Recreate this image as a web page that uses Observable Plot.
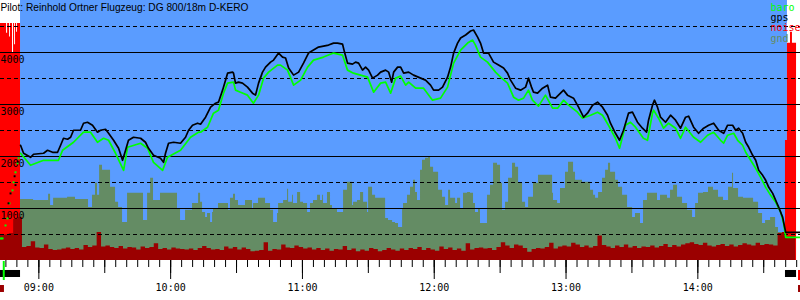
<!DOCTYPE html>
<html><head><meta charset="utf-8">
<script src="https://cdn.jsdelivr.net/npm/d3@7"></script>
<script src="https://cdn.jsdelivr.net/npm/@observablehq/plot@0.6"></script>
<style>html,body{margin:0;padding:0;background:#fff;} svg{display:block;}</style>
</head><body><div id="chart"></div>
<script>
// ---- text ----
const titleText = "Pilot: Reinhold Ortner Flugzeug: DG 800/18m D-KERO";
const legendNames = ["baro", "gps", "noise", "gnd"];
const legendColors = ["#00ff00", "#000000", "#ff0000", "#648c64"];
const hourLabels = ["09:00", "10:00", "11:00", "12:00", "13:00", "14:00"];
const yLabels = [1000, 2000, 3000, 4000];
const solidLevels = [1000, 2000, 3000, 4000];
const dashedLevels = [500, 1500, 2500, 3500, 4500];
// time in decimal hours
const timeDomain = [8.709, 14.779];
const skyPeriod = [8.861, 14.680];

// ---- GPS altitude ----
const gpsHours = [8.861,8.884,8.937,8.960,9.036,9.066,9.104,9.142,9.165,9.187,9.218,9.241,9.263,9.316,9.339,9.369,9.407,9.445,9.468,9.506,9.529,9.567,9.605,9.635,9.658,9.680,9.718,9.772,9.809,9.832,9.870,9.923,9.946,9.961,9.984,10.022,10.075,10.113,10.136,10.166,10.204,10.227,10.265,10.303,10.341,10.363,10.394,10.432,10.470,10.477,10.492,10.515,10.545,10.583,10.621,10.644,10.667,10.697,10.720,10.758,10.781,10.819,10.849,10.872,10.895,10.933,10.971,11.008,11.046,11.084,11.122,11.160,11.198,11.236,11.266,11.304,11.319,11.342,11.380,11.403,11.426,11.456,11.479,11.502,11.532,11.570,11.593,11.631,11.654,11.677,11.692,11.722,11.745,11.768,11.806,11.843,11.897,11.934,11.972,11.995,12.033,12.063,12.101,12.124,12.147,12.177,12.200,12.238,12.276,12.298,12.329,12.351,12.374,12.412,12.450,12.488,12.526,12.556,12.579,12.617,12.655,12.693,12.715,12.738,12.753,12.784,12.822,12.860,12.882,12.920,12.958,12.981,13.011,13.057,13.095,13.133,13.163,13.201,13.239,13.277,13.315,13.337,13.375,13.406,13.436,13.474,13.504,13.542,13.580,13.611,13.626,13.656,13.671,13.694,13.717,13.755,13.793,13.831,13.869,13.907,13.930,13.968,14.006,14.044,14.082,14.120,14.158,14.196,14.226,14.264,14.287,14.310,14.340,14.363,14.386,14.416,14.439,14.462,14.492,14.515,14.538,14.568,14.591,14.614,14.644,14.659,14.667,14.778];
const gpsAlt = [2216,2062,1985,2043,2062,2120,2081,2081,2216,2351,2332,2370,2505,2505,2640,2659,2601,2467,2505,2524,2447,2312,2158,1927,2120,2312,2370,2351,2274,2158,2023,1966,1888,2062,2255,2274,2255,2370,2505,2601,2640,2621,2756,2948,3025,3045,3276,3603,3623,3603,3411,3430,3411,3334,3218,3180,3411,3623,3719,3815,3854,3989,3912,3893,3700,3565,3623,3796,3989,4047,4104,4124,4143,4181,4181,4162,4008,3796,3777,3815,3796,3661,3719,3661,3507,3565,3623,3661,3623,3430,3623,3719,3719,3603,3623,3565,3507,3469,3372,3276,3276,3334,3526,3719,3989,4181,4278,4336,4413,4432,4297,4181,3989,3989,3815,3758,3700,3603,3469,3314,3276,3334,3507,3334,3237,3218,3314,3372,3141,3122,3218,3276,3180,3122,2948,2756,2833,2987,3045,2948,2794,2640,2447,2312,2505,2833,2852,2659,2544,2467,2698,2987,3083,2948,2756,2659,2794,2698,2544,2756,2775,2563,2447,2544,2601,2640,2505,2447,2601,2601,2505,2544,2447,2274,2177,2023,1927,1734,1638,1542,1407,1291,1156,1021,829,636,540,540];

// ---- barometric altitude ----
const baroHours = [8.861,8.937,9.036,9.149,9.180,9.263,9.339,9.392,9.445,9.491,9.529,9.582,9.643,9.673,9.772,9.825,9.870,9.939,9.976,10.075,10.151,10.211,10.227,10.280,10.325,10.363,10.401,10.432,10.477,10.492,10.530,10.583,10.628,10.667,10.705,10.743,10.811,10.834,10.887,10.933,10.986,11.039,11.084,11.160,11.236,11.304,11.342,11.387,11.441,11.494,11.540,11.593,11.631,11.669,11.707,11.745,11.783,11.806,11.859,11.919,11.987,12.048,12.101,12.147,12.200,12.253,12.291,12.313,12.351,12.404,12.465,12.503,12.556,12.602,12.640,12.678,12.715,12.745,12.791,12.844,12.898,12.936,12.981,13.019,13.087,13.125,13.186,13.239,13.277,13.322,13.375,13.406,13.451,13.489,13.527,13.587,13.618,13.656,13.664,13.702,13.740,13.778,13.831,13.869,13.907,13.968,14.021,14.074,14.120,14.173,14.196,14.226,14.272,14.302,14.340,14.363,14.401,14.439,14.477,14.515,14.553,14.591,14.629,14.651,14.667,14.778];
const baroAlt = [2062,1831,1927,1927,2120,2274,2467,2467,2274,2351,2312,2062,1734,2177,2255,2158,1888,1734,1985,2120,2370,2467,2467,2563,2833,2891,3218,3411,3430,3276,3237,3180,3025,3180,3507,3623,3758,3758,3661,3372,3469,3719,3854,3912,3989,3950,3661,3603,3565,3526,3237,3411,3430,3218,3507,3546,3372,3430,3314,3314,3083,3122,3334,3796,4047,4181,4239,4143,3912,3815,3623,3526,3411,3141,3083,3122,3276,3083,2968,3180,2929,2929,3083,2987,2852,2736,2794,2852,2794,2601,2351,2158,2601,2659,2563,2351,2312,2833,2891,2736,2544,2640,2544,2351,2563,2370,2274,2409,2467,2312,2255,2409,2447,2312,2216,2081,1927,1773,1599,1407,1253,1118,925,713,443,443];

// ---- engine climb samples (sparse points) ----
const baroClimbHours = [8.709,8.717,8.725,8.747,8.762,8.777,8.800,8.808,8.823,8.838,8.846];
const baroClimbAlt = [424,424,424,674,809,1098,1349,1503,1696,1869,1965];
const gpsClimbHours = [8.770,8.785,8.816,8.823,8.840];
const gpsClimbAlt = [1100,1290,1620,1450,1900];

// ---- ground elevation (steps) ----
const gndHours = [8.861,8.960,9.074,9.089,9.112,9.218,9.278,9.377,9.407,9.430,9.445,9.461,9.483,9.544,9.582,9.605,9.635,9.673,9.794,9.825,9.848,9.870,9.923,10.052,10.075,10.113,10.166,10.212,10.227,10.242,10.265,10.280,10.303,10.318,10.325,10.363,10.439,10.454,10.477,10.492,10.515,10.568,10.621,10.629,10.667,10.720,10.758,10.781,10.811,10.819,10.857,10.887,10.895,10.925,10.932,10.963,10.986,11.008,11.039,11.061,11.084,11.115,11.137,11.153,11.160,11.190,11.213,11.228,11.266,11.312,11.342,11.380,11.388,11.418,11.441,11.464,11.494,11.502,11.532,11.555,11.631,11.653,11.684,11.706,11.729,11.760,11.767,11.797,11.820,11.843,11.858,11.873,11.896,11.911,11.934,11.957,11.972,11.995,12.033,12.063,12.086,12.109,12.124,12.162,12.177,12.200,12.222,12.253,12.275,12.298,12.313,12.336,12.351,12.404,12.427,12.450,12.480,12.503,12.518,12.541,12.564,12.594,12.617,12.640,12.670,12.693,12.716,12.753,12.791,12.898,12.905,12.936,12.958,12.996,13.019,13.057,13.072,13.125,13.186,13.209,13.224,13.247,13.277,13.300,13.322,13.338,13.376,13.398,13.429,13.467,13.505,13.527,13.565,13.588,13.618,13.694,13.717,13.770,13.793,13.816,13.846,13.884,13.922,13.960,13.983,14.005,14.043,14.081,14.119,14.157,14.195,14.233,14.263,14.271,14.309,14.347,14.423,14.461,14.491,14.514,14.552,14.590,14.612,14.665];
const gndAlt = [1175,1156,1272,1060,1195,1214,1175,1021,1253,1484,1253,1831,1734,1407,1118,1021,732,1291,771,1291,1580,1156,1291,1002,771,964,1098,1291,1118,925,829,906,732,925,1002,1098,964,1195,1272,1156,1060,1156,1002,1098,1195,1098,964,732,906,1098,1156,1368,1118,1253,1098,1310,1118,1098,925,1098,1156,1253,1156,1253,1098,1310,1060,1002,925,1349,1503,1060,1118,1156,1310,1118,925,1407,1253,1195,809,771,732,713,636,1002,1098,1253,1407,1542,1310,1156,1734,1927,1965,1985,1792,1696,1349,1214,1060,1349,1195,1098,1195,1002,1291,1310,1291,1098,925,1002,713,1253,1445,1869,1831,1484,964,1118,1580,1869,1792,1484,1118,1021,1214,1484,1638,1291,1156,1098,1387,1696,1888,1696,1542,1503,1349,1253,1195,1310,1580,1734,1869,1696,1542,1407,1253,1021,829,906,713,1156,1291,1156,1253,1195,1349,1445,1214,1098,964,829,1098,1291,1310,1407,1349,1214,1156,1407,1676,1387,1214,1195,1118,906,713,771,829,636,540,540];

// ---- noise (one sample every 2 minutes from 08:42:32) ----
const noiseStart = 8.709;
const noiseStepMinutes = 2;
const noiseVal = [480,490,520,790,830,
250,270,360,240,230,300,210,190,200,220,240,210,230,200,290,250,280,540,260,280,250,230,270,220,250,240,200,260,230,250,320,210,230,200,240,220,210,200,220,190,230,
270,230,200,210,190,260,220,250,200,240,210,170,180,190,340,180,210,200,300,240,230,280,250,220,
240,200,230,190,220,180,210,200,270,190,220,170,200,180,230,210,170,190,230,200,180,220,190,230,210,250,190,230,200,180,260,210,240,190,220,180,320,200,230,240,220,230,190,250,340,280,230,300,280,230,160,210,230,220,250,330,220,260,
280,260,330,300,250,280,240,270,470,290,260,230,280,250,300,240,270,230,260,250,280,240,270,310,250,290,260,300,320,340,310,290,330,280,260,290,310,270,300,260,290,320,300,280,330,290,310,300,280,520,540,450,460,
0,0];

// ---- engine-run noise (high level) ----
const engineLeftHours = [8.709,8.755,8.763,8.778,8.785,8.800,8.808,8.816,8.823,8.831,8.838,8.861];
const engineLeftVal = [4560,4370,4560,4300,4560,3990,4560,4150,4560,4390,4560,4560];
const engineRightHours = [14.665,14.680,14.703,14.718,14.749];
const engineRightVal = [2310,4180,4390,4180,4180];

// ---- markers below the axis ----
const enginePeriods = [[8.709, 8.861], [14.665, 14.749]];
const takeoffMark = [8.730, 8.745];
const launchMark = [8.709, 8.739];
const endMark = [14.764, 14.779];

// ---- build tables ----
const gps = gpsHours.map((h, i) => ({h, v: gpsAlt[i]}));
const baro = baroHours.map((h, i) => ({h, v: baroAlt[i]}));
const gpsClimb = gpsClimbHours.map((h, i) => ({h, v: gpsClimbAlt[i]}));
const baroClimb = baroClimbHours.map((h, i) => ({h, v: baroClimbAlt[i]}));
const gnd = gndHours.map((h, i) => ({h, v: gndAlt[i]}));
const noise = noiseVal.map((v, i) => ({h: noiseStart + i * noiseStepMinutes / 60, v}));
const engL = engineLeftHours.map((h, i) => ({h, v: engineLeftVal[i]}));
const engR = engineRightHours.map((h, i) => ({h, v: engineRightVal[i]}));

const parseHour = s => +s.slice(0, 2) + +s.slice(3) / 60;
const hourTicks = hourLabels.map(parseHour);
const halfTicks = d3.range(17, 30).map(k => k / 2).filter(t => t >= timeDomain[0] && t <= timeDomain[1]);
const minorTicks = d3.range(105, 178).map(k => k / 12).filter(t => t >= timeDomain[0] && t <= timeDomain[1]);
const fmt = h => { const H = Math.floor(h + 1e-6), M = Math.round((h - H) * 60); return String(H).padStart(2, "0") + ":" + String(M).padStart(2, "0"); };

const mono = "DejaVu Sans Mono, monospace";
const BLUE = "#5a9cff", OLIVE = "#648c64", MAROON = "#9b0000", RED = "#ff0000", GREEN = "#00ff00";

const chart = Plot.plot({
  width: 800, height: 300,
  marginLeft: 0, marginRight: 0, marginTop: 0, marginBottom: 40,
  style: {background: "white", color: "black", overflow: "visible"},
  x: {domain: timeDomain, label: null},
  y: {domain: [0, 5000], axis: null, label: null},
  marks: [
    Plot.rect([skyPeriod], {x1: d => d[0], x2: d => d[1], y1: 0, y2: 5000, fill: BLUE}),
    Plot.areaY(engL, {x: "h", y: "v", curve: "step-after", fill: RED}),
    Plot.areaY(engR, {x: "h", y: "v", curve: "step-after", fill: RED}),
    Plot.areaY(gnd, {x: "h", y: "v", curve: "step-after", fill: OLIVE}),
    Plot.areaY(noise, {x: "h", y: "v", curve: "step-after", fill: MAROON}),
    Plot.ruleY(solidLevels, {stroke: "black", strokeWidth: 1}),
    Plot.ruleY(dashedLevels, {stroke: "black", strokeWidth: 1, strokeDasharray: "4,3"}),
    Plot.text(yLabels, {y: d => d, text: d => String(d), frameAnchor: "left", textAnchor: "start", lineAnchor: "top", dy: 3.6, fontSize: 10, fontFamily: mono, fill: "black"}),
    Plot.line(baro, {x: "h", y: "v", stroke: GREEN, strokeWidth: 1.7}),
    Plot.line(gps, {x: "h", y: "v", stroke: "black", strokeWidth: 1.7}),
    Plot.dot(baroClimb, {x: "h", y: "v", symbol: "square", r: 1.1, fill: GREEN}),
    Plot.dot(gpsClimb, {x: "h", y: "v", symbol: "square", r: 1.1, fill: "black"}),
    Plot.axisX({ticks: minorTicks, tickSize: 7, tickFormat: () => "", label: null}),
    Plot.axisX({ticks: halfTicks, tickSize: 13, tickFormat: () => "", label: null}),
    Plot.axisX({ticks: hourTicks, tickSize: 19, tickPadding: 4, tickFormat: fmt, fontSize: 10, fontFamily: mono, label: null}),
    Plot.rect(enginePeriods, {x1: d => d[0], x2: d => d[1], y1: -192, y2: -327, fill: "black"}),
    Plot.rect([takeoffMark], {x1: d => d[0], x2: d => d[1], y1: -19, y2: -385, fill: GREEN}),
    Plot.rect([launchMark], {x1: d => d[0], x2: d => d[1], y1: -481, y2: -615, fill: MAROON}),
    Plot.rect([endMark], {x1: d => d[0], x2: d => d[1], y1: -192, y2: -385, fill: RED}),
    Plot.rect([endMark], {x1: d => d[0], x2: d => d[1], y1: -481, y2: -615, fill: MAROON}),
    Plot.text([titleText], {frameAnchor: "top-left", textAnchor: "start", lineAnchor: "top", dy: 2.8, fontSize: 10.2, fontFamily: "Liberation Sans, Arial, sans-serif", fill: "black"}),
    ...legendNames.map((name, i) => Plot.text([name], {frameAnchor: "top-left", textAnchor: "start", lineAnchor: "top", dx: 770, dy: 3.4 + i * 10.2, fontSize: 10, fontFamily: mono, fill: legendColors[i]}))
  ]
});
document.getElementById("chart").appendChild(chart);
</script>
</body></html>
